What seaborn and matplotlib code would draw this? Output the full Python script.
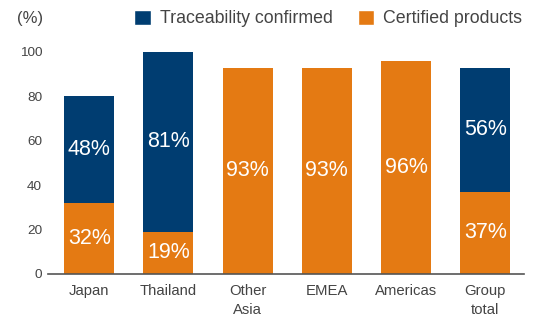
import matplotlib
matplotlib.use("Agg")
import matplotlib.pyplot as plt
from matplotlib.patches import Patch
import seaborn as sns
import pandas as pd

categories = ["Japan", "Thailand", "Other\nAsia", "EMEA", "Americas", "Group\ntotal"]
certified = [32, 19, 93, 93, 96, 37]
traceability = [48, 81, 0, 0, 0, 56]
yticks = [0, 20, 40, 60, 80, 100]

NAVY = "#003d71"
ORANGE = "#e47a13"
TEXT = "#444444"

sns.set_theme(style="white")
plt.rcParams["font.family"] = ["Liberation Sans", "DejaVu Sans"]

df = pd.DataFrame({
    "category": categories,
    "certified": certified,
    "traceability": traceability,
})
df["total"] = df["certified"] + df["traceability"]

fig = plt.figure(figsize=(5.37, 3.2), dpi=100)
ax = fig.add_axes([48 / 537, (320 - 274) / 320, (524 - 48) / 537, (274 - 52) / 320])

sns.barplot(data=df, x="category", y="total", color=NAVY, saturation=1,
            width=0.63, ax=ax, linewidth=0)
sns.barplot(data=df, x="category", y="certified", color=ORANGE, saturation=1,
            width=0.63, ax=ax, linewidth=0)

for i, (c, t) in enumerate(zip(certified, traceability)):
    if c > 0:
        ax.text(i, c / 2, f"{c}%", ha="center", va="center", color="white",
                fontsize=15.5)
    if t > 0:
        ax.text(i, c + t / 2, f"{t}%", ha="center", va="center", color="white",
                fontsize=15.5)

ax.set_ylim(0, 100)
ax.set_xlim(-0.52, len(categories) - 1 + 0.49)
ax.set_yticks(yticks)
ax.set_yticklabels([str(v) for v in yticks])
ax.set_xlabel("")
ax.set_ylabel("")
ax.tick_params(axis="y", length=0, pad=4.3, labelsize=9.7, labelcolor=TEXT)
ax.tick_params(axis="x", length=0, pad=7, labelsize=10.7, labelcolor=TEXT)
for lbl in ax.get_xticklabels():
    lbl.set_linespacing(1.5)
for s in ["top", "right", "left"]:
    ax.spines[s].set_visible(False)
ax.spines["bottom"].set_color("#555555")
ax.spines["bottom"].set_linewidth(1.2)
ax.grid(False)

fig.text(43 / 537, 1 - 19 / 320, "(%)", ha="right", va="center",
         fontsize=12, color=TEXT)

handles = [Patch(facecolor=NAVY, label="Traceability confirmed"),
           Patch(facecolor=ORANGE, label="Certified products")]
fig.legend(handles=handles, loc="center left",
           bbox_to_anchor=(134 / 537, 1 - 18.5 / 320), ncol=2, frameon=False,
           fontsize=12.8, handlelength=0.95, handleheight=0.95,
           handletextpad=0.5, columnspacing=1.4, borderpad=0,
           borderaxespad=0, labelcolor=TEXT)

fig.savefig("out.png", dpi=100)
